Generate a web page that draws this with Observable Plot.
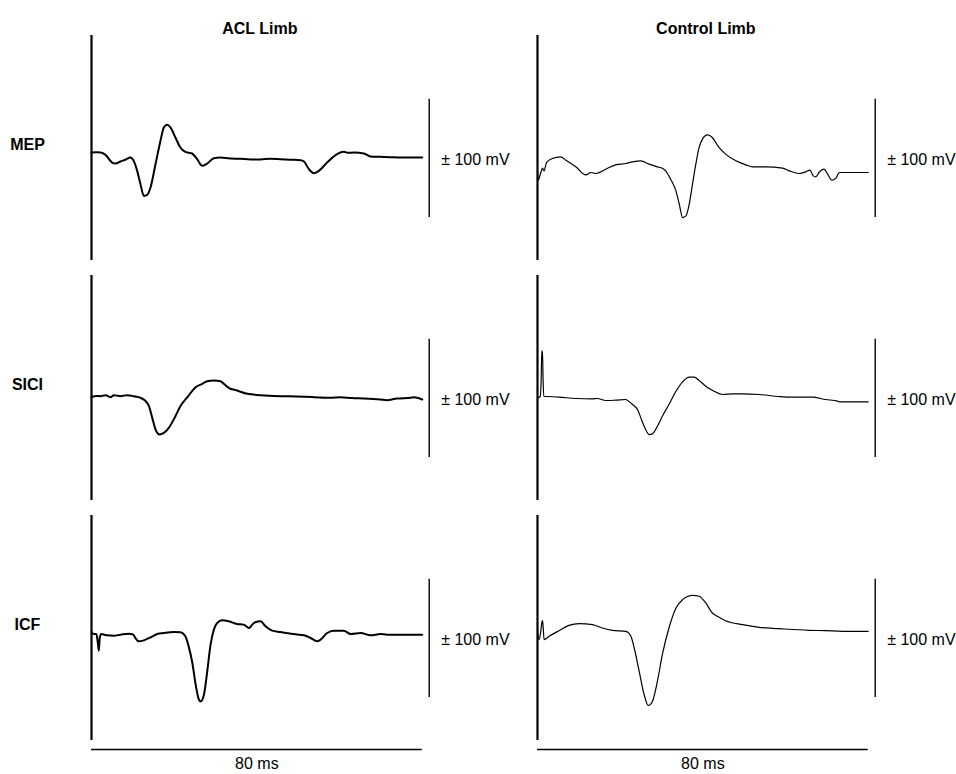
<!DOCTYPE html>
<html>
<head>
<meta charset="utf-8">
<script src="https://cdn.jsdelivr.net/npm/d3@7"></script>
<script src="https://cdn.jsdelivr.net/npm/@observablehq/plot@0.6"></script>
<style>
  html, body { margin: 0; padding: 0; background: #fff; }
  #chart svg { display: block; overflow: visible; }
</style>
</head>
<body>
<div id="chart"></div>
<script>
// Column (limb) and row (protocol) categories
const limbs = ["ACL Limb", "Control Limb"];
const rows = ["MEP", "SICI", "ICF"];

// Scale annotations
const scaleBarMV = 100;          // ± 100 mV calibration bar
const scaleBarLabel = "± 100 mV";
const sweepMs = 80;              // 80 ms time bar
const sweepLabel = "80 ms";
const yDomain = [-173, 208];     // mV range of each panel

// Traces: [time (ms), amplitude (mV)]
const aclMEP = [
  [0, 9.9], [1.2, 10.5], [2.2, 9.9], [3.4, 5.9], [5.0, -7.1], [5.8, -8.8], [7.0, -5.4], [8.3, -2.0],
  [9.4, 1.4], [10.2, -4.2], [11.05, -21.2], [11.85, -43.8], [12.66, -63.6], [13.47, -61.9],
  [14.27, -49.4], [15.48, -9.9], [16.69, 29.7], [17.5, 52.3], [18.3, 56.8], [19.1, 52.3],
  [20.3, 35.3], [21.5, 18.4], [22.7, 11.0], [24.35, 8.2], [25.56, -1.4], [26.77, -12.7],
  [27.98, -8.8], [29.6, 0.3], [31.2, 1.4], [33.5, -0.3], [36.0, -0.8], [38.5, -1.9], [40.9, -2.0],
  [43.2, -0.6], [45.7, -1.4], [48.1, -2.3], [50.6, -3.1], [51.4, -5.4], [52.6, -18.4],
  [53.8, -25.2], [55.0, -21.2], [57.0, -7.1], [59.4, 7.1], [61.0, 11.0], [62.2, 9.3],
  [63.5, 9.9], [65.9, 8.2], [67.5, 3.1], [69.9, 2.5], [72.3, 1.9], [74.7, 1.4], [80, 1.4]
];
const ctlMEP = [
  [0, -21.2], [0.15, -37.0], [0.8, -24.0], [1.2, -16.7], [1.6, -21.2], [2.17, -7.1], [3.6, -0.3],
  [5.6, 2.5], [6.85, -3.1], [9.27, -14.4], [11.7, -28.0], [12.9, -24.0], [14.1, -25.7],
  [16.5, -18.4], [18.9, -11.0], [21.4, -8.8], [23.0, -5.9], [25.0, -4.2], [27.0, -9.9],
  [29.0, -14.4], [30.2, -16.7], [31.0, -21.2], [32.2, -35.3], [33.5, -55.1], [34.3, -77.7],
  [35.1, -100.3], [35.9, -97.5], [36.7, -77.7], [37.5, -43.8], [38.3, -9.9], [39.1, 18.4],
  [39.9, 32.5], [41.1, 39.8], [42.3, 35.3], [43.9, 18.4], [45.5, 7.1], [48.0, -4.2],
  [50.4, -11.0], [52.0, -14.4], [55.2, -14.4], [59.3, -16.7], [60.9, -21.2], [63.3, -25.7],
  [64.9, -22.9], [65.9, -20.0], [66.7, -29.7], [67.3, -31.4], [68.1, -24.0], [69.3, -18.4],
  [70.2, -26.8], [71.2, -37.0], [72.2, -33.6], [73.0, -24.0], [80, -24.0]
];
const aclSICI = [
  [0, 2.0], [1.2, 3.9], [2.2, 3.7], [3.4, 5.4], [4.6, 2.0], [5.4, 5.4], [7.0, 3.7], [8.6, 5.4],
  [10.2, 3.7], [11.9, 0.8], [13.1, -4.8], [13.9, -13.3], [14.7, -33.1], [15.5, -52.8],
  [16.5, -61.3], [17.5, -58.5], [18.7, -50.0], [20.3, -30.2], [21.5, -13.3], [23.2, 2.0],
  [25.2, 18.9], [26.8, 24.6], [28.0, 29.1], [29.6, 30.2], [31.2, 29.1], [32.0, 24.6],
  [33.2, 17.8], [35.2, 13.3], [37.7, 7.6], [40.9, 5.4], [45.7, 3.7], [49.5, 3.1], [53.8, 2.0],
  [57.8, 0.8], [60.2, 2.0], [63.0, 0.4], [65.9, -0.3], [69.9, -2.0], [71.5, -3.1],
  [73.9, -0.3], [77.2, 0.8], [78.0, 2.0], [80, -2.0]
];
const ctlSICI = [
  [0, 0.8], [0.64, 3.1], [0.88, 29.1], [1.04, 80.0], [1.2, 80.0], [1.36, 29.1], [1.52, 3.1],
  [2.0, 3.1], [5.2, 2.0], [9.3, -0.3], [13.3, -0.8], [14.5, -0.3], [16.5, -3.7], [18.9, -3.1],
  [21.4, -2.0], [21.8, -3.7], [23.0, -10.5], [24.2, -18.9], [25.0, -33.1], [25.8, -47.2],
  [27.0, -61.3], [27.8, -60.2], [29.0, -47.2], [30.2, -30.2], [31.8, -10.5], [33.5, 12.1],
  [35.1, 28.0], [36.7, 35.9], [37.9, 35.9], [39.1, 30.2], [40.7, 20.6], [42.7, 12.1],
  [44.8, 6.5], [47.2, 7.6], [49.6, 7.6], [53.6, 6.5], [58.4, 3.1], [61.7, 2.0], [66.5, 2.0],
  [69.7, -2.0], [72.6, -4.8], [73.0, -5.9], [80, -5.9]
];
const aclICF = [
  [0, 10.7], [0.56, 7.3], [1.2, 7.3], [1.53, -7.9], [1.77, -20.9], [2.0, 0.6], [2.34, 7.3],
  [3.8, 5.1], [5.4, 4.5], [7.0, 6.2], [9.0, 7.9], [10.1, 6.2], [10.6, 0.6], [11.4, -5.1],
  [12.7, -3.4], [14.3, 1.7], [15.9, 7.3], [17.5, 9.0], [19.9, 10.7], [21.5, 10.2],
  [22.7, 3.4], [23.5, -13.6], [24.4, -41.8], [25.2, -78.5], [26.0, -104.0], [26.4, -106.8],
  [27.2, -95.5], [28.0, -55.9], [28.8, -10.7], [29.6, 14.7], [30.4, 26.0], [31.6, 30.5],
  [33.2, 28.8], [35.2, 24.3], [36.8, 23.2], [38.1, 17.5], [38.9, 23.2], [39.7, 27.7],
  [40.9, 28.8], [42.1, 20.3], [43.7, 13.0], [45.7, 10.7], [48.9, 7.3], [51.4, 5.1],
  [53.0, 0.6], [54.6, -5.1], [55.4, -2.3], [57.0, 9.0], [58.6, 13.0], [61.0, 13.0],
  [62.7, 7.3], [65.1, 9.0], [67.5, 5.1], [69.9, 7.3], [71.5, 6.2], [80, 6.2]
];
const ctlICF = [
  [0, 11.9], [0.4, -2.3], [0.8, 11.9], [1.04, 26.0], [1.2, 29.9], [1.36, 20.3], [1.6, -2.3],
  [2.8, 3.4], [5.2, 13.0], [7.6, 22.0], [10.1, 24.9], [13.3, 23.2], [15.7, 17.5], [18.1, 13.6],
  [21.4, 11.9], [22.6, 3.4], [23.4, -16.4], [24.6, -55.9], [25.8, -95.5], [26.8, -113.6],
  [27.8, -106.8], [29.0, -72.9], [30.2, -27.7], [31.8, 17.5], [33.5, 51.4], [35.1, 65.5],
  [37.5, 72.9], [39.1, 71.2], [40.7, 59.9], [42.3, 42.9], [43.5, 37.3], [45.5, 29.9],
  [49.6, 23.2], [53.6, 18.6], [58.4, 16.4], [65.7, 13.6], [69.7, 13.0], [73.8, 11.9], [80, 11.9]
];

const traceList = [
  {limb: limbs[0], row: rows[0], pts: aclMEP},
  {limb: limbs[1], row: rows[0], pts: ctlMEP},
  {limb: limbs[0], row: rows[1], pts: aclSICI},
  {limb: limbs[1], row: rows[1], pts: ctlSICI},
  {limb: limbs[0], row: rows[2], pts: aclICF},
  {limb: limbs[1], row: rows[2], pts: ctlICF}
];
const samples = traceList.flatMap(tr =>
  tr.pts.map(([t, v]) => ({limb: tr.limb, row: tr.row, t, v}))
);
const aclSamples = samples.filter(d => d.limb === limbs[0]);
const ctlSamples = samples.filter(d => d.limb === limbs[1]);

const font = "'Liberation Sans', Arial, Helvetica, sans-serif";

const chart = Plot.plot({
  width: 956,
  height: 774,
  marginLeft: 91,
  marginRight: 88.3,
  marginTop: 35,
  marginBottom: 34,
  style: {fontFamily: font, fontSize: "16px", background: "#fff", color: "#000"},
  facet: {marginTop: 0, marginRight: 0, marginBottom: 0, marginLeft: 0},
  fx: {domain: limbs, axis: null, paddingInner: 0.2585, paddingOuter: 0, round: false},
  fy: {domain: rows, axis: null, paddingInner: 0.0625, paddingOuter: 0, round: false},
  x: {domain: [0, sweepMs], axis: null},
  y: {domain: yDomain, axis: null},
  marks: [
    // stimulus / onset line on the left of every panel
    Plot.ruleX([0], {x: d => d, stroke: "#000", strokeWidth: 2.2}),
    // traces
    Plot.line(aclSamples, {x: "t", y: "v", fx: "limb", fy: "row", z: "row",
      stroke: "#000", strokeWidth: 2, curve: "monotone-x", strokeLinejoin: "round"}),
    Plot.line(ctlSamples, {x: "t", y: "v", fx: "limb", fy: "row", z: "row",
      stroke: "#000", strokeWidth: 1.2, curve: "monotone-x", strokeLinejoin: "round"}),
    // amplitude calibration bars
    Plot.ruleX([sweepMs], {x: d => d, y1: -scaleBarMV, y2: scaleBarMV, dx: 7,
      stroke: "#000", strokeWidth: 1.4}),
    Plot.text([scaleBarLabel], {x: () => sweepMs, y: () => 0, text: d => d, dx: 19, dy: 1.5,
      textAnchor: "start", fontSize: 16, fill: "#000"}),
    // time calibration bar under the bottom row
    Plot.ruleY([rows[2]], {fy: d => d, y: () => yDomain[0], x1: () => 0, x2: () => sweepMs,
      dy: 9, stroke: "#000", strokeWidth: 1.4}),
    Plot.text([rows[2]], {fy: d => d, x: () => sweepMs / 2, frameAnchor: "bottom",
      text: () => sweepLabel, dy: 28, fontSize: 16, fill: "#000"}),
    // column titles
    Plot.text(limbs, {fx: d => d, fy: () => rows[0], x: () => sweepMs / 2, frameAnchor: "top",
      text: d => d, dy: -12.5, dx: 3, fontSize: 16, fontWeight: "bold", fill: "#000"}),
    // row labels
    Plot.text(rows, {fy: d => d, fx: () => limbs[0], frameAnchor: "left", text: d => d,
      dx: -64, dy: -3.5, textAnchor: "middle", fontSize: 16, fontWeight: "bold", fill: "#000"})
  ]
});

document.getElementById("chart").appendChild(chart);
</script>
</body>
</html>
